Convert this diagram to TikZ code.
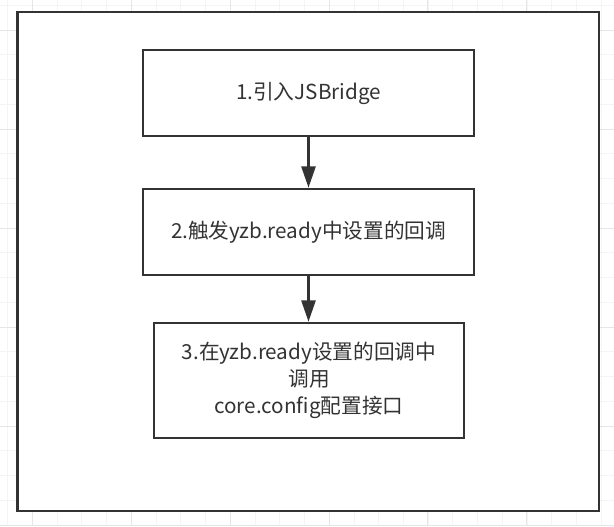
\documentclass[tikz,border=0pt]{standalone}
\usepackage{fontspec}
\setmainfont{Noto Sans CJK SC}
\usetikzlibrary{arrows.meta}
\definecolor{ink}{HTML}{333333}
\definecolor{gridminor}{HTML}{F4F4F4}
\definecolor{gridmajor}{HTML}{E6E6E6}
\tikzset{
  stepbox/.style={draw=ink, line width=1.9pt, fill=white, rectangle, inner sep=0pt,
    text=ink, align=center, font=\fontsize{15.5pt}{20.25pt}\selectfont},
  flow/.style={draw=ink, line width=1.9pt, -{Triangle[length=16pt,width=10.5pt]}},
}
\begin{document}
\begin{tikzpicture}[x=0.75pt,y=-0.75pt]
\useasboundingbox (0,0) rectangle (614,526);
\fill[white] (0,0) rectangle (614,526);
% grid
\foreach \i in {0,...,24} {
  \draw[gridminor, line width=0.75pt] ({7.8+24.73*\i},0) -- ({7.8+24.73*\i},526);
}
\foreach \j in {0,...,21} {
  \draw[gridminor, line width=0.75pt] (0,{5.45+24.75*\j}) -- (614,{5.45+24.75*\j});
}
\foreach \i in {0,...,5} {
  \draw[gridmajor, line width=0.75pt] ({32.3+98.92*\i},0) -- ({32.3+98.92*\i},526);
}
\foreach \j in {0,...,5} {
  \draw[gridmajor, line width=0.75pt] (0,{30.2+99*\j}) -- (614,{30.2+99*\j});
}
% outer frame
\draw[ink, line width=1.9pt, fill=white] (17.5,12) rectangle (599,511);
% boxes
\node[stepbox, minimum width=248.25pt, minimum height=64.5pt] (s1) at (308.5,93) {1.引入JSBridge};
\node[stepbox, minimum width=248.25pt, minimum height=64.5pt] (s2) at (308.5,232) {2.触发yzb.ready中设置的回调};
\node[stepbox, minimum width=232.5pt, minimum height=86.25pt] (s3) at (309,380.5) {3.在yzb.ready设置的回调中\\调用\\core.config配置接口};
% arrows
\draw[flow] (s1.south) -- (s2.north);
\draw[flow] (s2.south) -- (s2.south |- s3.north);
\end{tikzpicture}
\end{document}
